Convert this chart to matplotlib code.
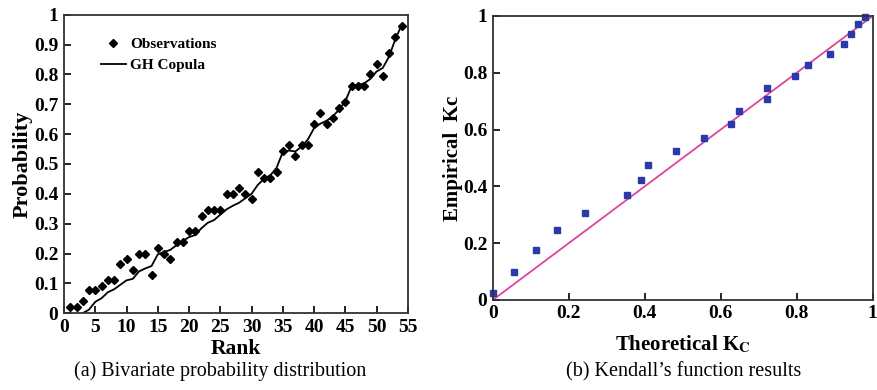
import matplotlib
matplotlib.use('Agg')
import matplotlib.pyplot as plt
import numpy as np

plt.rcParams['font.family'] = ['Liberation Serif', 'DejaVu Serif']
plt.rcParams['mathtext.fontset'] = 'stix'

# (a) rank vs probability
rank = np.arange(1, 55)
obs = [0.02, 0.02, 0.04, 0.076, 0.076, 0.092, 0.11, 0.11, 0.165, 0.18,
       0.145, 0.2, 0.2, 0.128, 0.22, 0.2, 0.18, 0.237, 0.237, 0.274,
       0.274, 0.327, 0.346, 0.346, 0.346, 0.4, 0.4, 0.418, 0.4, 0.382,
       0.472, 0.453, 0.453, 0.472, 0.543, 0.562, 0.528, 0.562, 0.562, 0.635,
       0.671, 0.635, 0.655, 0.688, 0.707, 0.763, 0.763, 0.763, 0.8, 0.835,
       0.796, 0.871, 0.925, 0.964]
gh_rank = np.arange(3, 55)
gh = [0.0, 0.012, 0.038, 0.05, 0.07, 0.08, 0.095, 0.11, 0.115, 0.14,
      0.15, 0.158, 0.197, 0.205, 0.212, 0.228, 0.242, 0.255, 0.262, 0.285,
      0.303, 0.312, 0.33, 0.348, 0.36, 0.37, 0.385, 0.4, 0.43, 0.45,
      0.462, 0.487, 0.54, 0.545, 0.542, 0.558, 0.582, 0.62, 0.635, 0.645,
      0.66, 0.682, 0.71, 0.76, 0.765, 0.77, 0.785, 0.81, 0.822, 0.86,
      0.918, 0.965]

# (b) Kendall's function
kc_theo = [0.0, 0.056, 0.113, 0.168, 0.242, 0.352, 0.389, 0.408, 0.481, 0.555,
           0.628, 0.647, 0.721, 0.721, 0.795, 0.831, 0.887, 0.924, 0.943, 0.961,
           0.979]
kc_emp = [0.025, 0.1, 0.175, 0.246, 0.307, 0.369, 0.422, 0.474, 0.525, 0.571,
          0.619, 0.664, 0.748, 0.708, 0.787, 0.827, 0.865, 0.9, 0.936, 0.972,
          0.995]

fig = plt.figure(figsize=(8.77, 3.9), dpi=100)
ax1 = fig.add_axes([0.073, 0.197, 0.392, 0.765])
ax2 = fig.add_axes([0.562, 0.231, 0.433, 0.728])

for ax in (ax1, ax2):
    for s in ax.spines.values():
        s.set_linewidth(1.3)
        s.set_color('#333333')
    ax.tick_params(direction='in', length=5, width=1.2, labelsize=14, pad=4)

ax1.plot(rank, obs, 'D', color='black', markersize=4, label='Observations')
ax1.plot(gh_rank, gh, '-', color='black', linewidth=1.3, label='GH Copula')
ax1.set_xlim(0, 55)
ax1.set_ylim(0, 1)
ax1.set_xticks(np.arange(0, 56, 5))
yt = np.round(np.arange(0, 1.01, 0.1), 1)
ax1.set_yticks(yt)
ax1.set_yticklabels(['0'] + [f'{v:.1f}' for v in yt[1:-1]] + ['1'], fontweight='bold')
ax1.set_xticklabels([str(v) for v in range(0, 56, 5)], fontweight='bold')
ax1.set_xlabel('Rank', fontsize=15.5, fontweight='bold', labelpad=2)
ax1.set_ylabel('Probability', fontsize=16, fontweight='bold', labelpad=1)
leg = ax1.legend(loc='upper left', frameon=False, prop={'weight': 'bold', 'size': 11},
                 handlelength=1.6, handletextpad=0.3, borderaxespad=0.9,
                 bbox_to_anchor=(0.05, 0.99), labelspacing=0.45)

ax2.plot([0, 1], [0, 1], '-', color='#e0449a', linewidth=1.3)
ax2.plot(kc_theo, kc_emp, 's', color='#2b3aa8', markersize=4, clip_on=False)
ax2.set_xlim(0, 1)
ax2.set_ylim(0, 1)
t2 = np.round(np.arange(0, 1.01, 0.2), 1)
ax2.set_xticks(t2)
ax2.set_yticks(t2)
lbl2 = ['0'] + [f'{v:.1f}' for v in t2[1:-1]] + ['1']
ax2.set_xticklabels(lbl2, fontweight='bold')
ax2.set_yticklabels(lbl2, fontweight='bold')
ax2.set_xlabel(r'Theoretical K$_\mathbf{C}$', fontsize=15, fontweight='bold', labelpad=8)
ax2.set_ylabel('Empirical  Kc', fontsize=15, fontweight='bold', labelpad=0)

fig.text(0.251, 0.035, '(a) Bivariate probability distribution', ha='center', fontsize=14.5)
fig.text(0.779, 0.035, '(b) Kendall\u2019s function results', ha='center', fontsize=14.5)

fig.savefig('out.png', dpi=100)
